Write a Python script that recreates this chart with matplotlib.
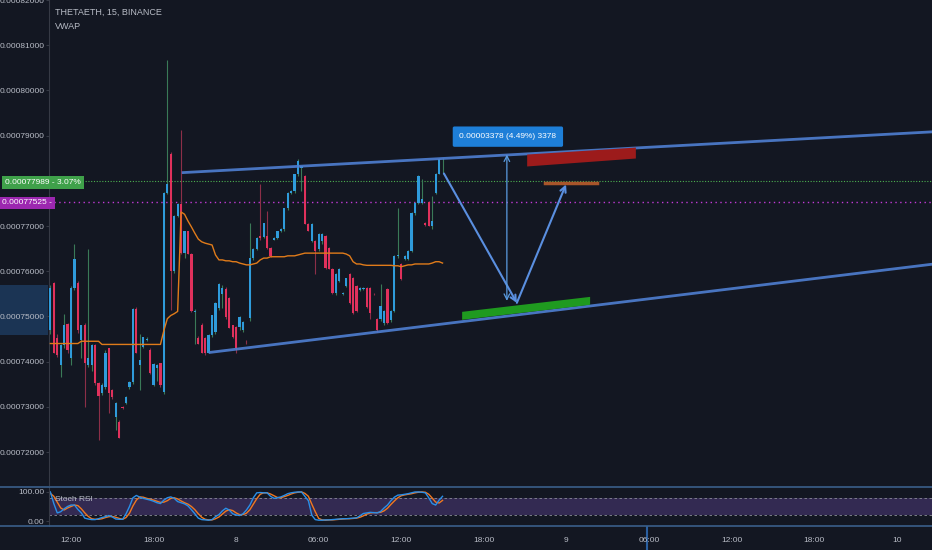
import numpy as np
import matplotlib
matplotlib.use("Agg")
import matplotlib.pyplot as plt
from matplotlib import font_manager
from matplotlib.patches import Polygon, Rectangle

# pick a narrow UI font if we have one
names = {f.name for f in font_manager.fontManager.ttflist}
ui_font = 'Liberation Sans Narrow' if 'Liberation Sans Narrow' in names else 'Liberation Sans'
plt.rcParams['font.family'] = [ui_font, 'DejaVu Sans']

# ---- data (prices in 1e-8 ETH) ----
opens = [74690, 75740, 74530, 73920, 74360, 74840, 74090, 75630, 75740, 74470,
         74800, 73920, 73920, 74360, 73520, 73300, 73440, 74290, 73370, 72780,
         72660, 73000, 73080, 73430, 73540, 75170, 73920, 74320, 74480, 74250,
         73480, 73850, 73960, 73320, 77720, 78600, 76000, 77220, 77480, 76400,
         76890, 76380, 75090, 74530, 74800, 74530, 74200, 74580, 74650, 75190,
         75500, 75610, 75410, 74800, 74760, 74760, 74690, 74440, 74970, 76290,
         76500, 76780, 76760, 76780, 76520, 76700, 76740, 76890, 76930, 77390,
         77720, 77770, 78160, 78290, 78100, 77050, 76670, 76670, 76490, 76670,
         76780, 76510, 76050, 75520, 75790, 75500, 75680, 75940, 75850, 75680,
         75580, 75600, 75630, 75630, 75500, 74950, 74950, 74860, 75610, 74910,
         75130, 76340, 76160, 76270, 76270, 76450, 77280, 77500, 77510, 77060,
         77540, 77000, 77720, 78160, 78450]
highs = [75700, 75760, 74600, 74400, 75060, 74860, 75680, 76600, 75780, 74800,
         74850, 76490, 74400, 74400, 73540, 73520, 74250, 74300, 73400, 73100,
         72700, 73020, 73230, 73560, 75190, 75200, 74620, 74550, 74540, 74300,
         73960, 73950, 73980, 77750, 80670, 78640, 77240, 77500, 79130, 76900,
         76900, 76400, 75160, 74560, 74850, 74550, 74600, 75040, 75320, 75740,
         75700, 75650, 75420, 74820, 74780, 75000, 74900, 74470, 77060, 76520,
         76750, 77920, 77070, 77330, 76540, 76760, 76900, 76950, 77400, 77760,
         77790, 78160, 78480, 78330, 78120, 77060, 77060, 76680, 76850, 76850,
         76800, 76530, 76060, 75960, 76060, 75530, 75860, 75960, 75870, 75700,
         75640, 75640, 75650, 75650, 75520, 74970, 75720, 75150, 75630, 75150,
         76360, 77400, 76180, 76360, 76470, 77300, 77520, 78120, 78040, 77080,
         77560, 77660, 78170, 78500, 78500]
lows = [74620, 74180, 74100, 73650, 74300, 74200, 73920, 75580, 74640, 74090,
        72990, 73880, 73800, 73480, 72270, 73260, 73400, 72860, 73180, 72490,
        72300, 72960, 73060, 73400, 73500, 74180, 73370, 74300, 74460, 73720,
        73450, 73580, 73430, 73280, 77700, 75140, 75950, 77200, 76380, 76300,
        76370, 75100, 74400, 74380, 74180, 74150, 74180, 74550, 74600, 75150,
        75180, 74950, 74740, 74530, 74200, 74700, 74650, 74400, 74900, 76250,
        76480, 76700, 76740, 76500, 76320, 76680, 76720, 76870, 76900, 77350,
        77700, 77740, 78100, 77770, 77040, 76880, 76640, 75940, 76450, 76600,
        76050, 76040, 75500, 75480, 75760, 75470, 75650, 75280, 75060, 75100,
        75560, 75580, 75180, 74950, 75480, 74660, 74900, 74820, 74840, 74880,
        75100, 76300, 75800, 76250, 76250, 76420, 77250, 77480, 77490, 77010,
        76990, 76930, 77700, 78140, 78140]
closes = [75630, 74200, 74140, 74360, 74800, 74250, 75630, 76270, 74690, 74800,
          73960, 74090, 74360, 73520, 73240, 73480, 74200, 73300, 73210, 73080,
          72310, 72980, 73210, 73540, 75170, 74200, 74040, 74540, 74500, 73740,
          73950, 73920, 73480, 77720, 77940, 76000, 77220, 77480, 76400, 76890,
          76380, 75130, 75130, 74400, 74200, 74200, 74580, 75020, 75300, 75720,
          75630, 74980, 74750, 74540, 74310, 74980, 74870, 74430, 76290, 76500,
          76740, 76740, 77060, 76520, 76340, 76740, 76890, 76930, 77390, 77720,
          77770, 78140, 78430, 78320, 77050, 76890, 77040, 76450, 76820, 76830,
          76070, 76050, 75520, 75940, 76050, 75510, 75850, 75300, 75080, 75130,
          75620, 75620, 75200, 75070, 75490, 74690, 75240, 75130, 74860, 75130,
          76340, 76360, 75830, 76340, 76450, 77280, 77500, 78100, 77600, 77030,
          77000, 77100, 78160, 78490, 78470]
vwap = [74400, 74400, 74400, 74400, 74400, 74400, 74400, 74400, 74400, 74450,
        74450, 74450, 74450, 74450, 74450, 74380, 74380, 74380, 74380, 74380,
        74380, 74380, 74380, 74380, 74380, 74380, 74380, 74380, 74380, 74380,
        74380, 74380, 74380, 74690, 74950, 75020, 75060, 75110, 77310, 77260,
        77110, 76980, 76840, 76710, 76650, 76620, 76600, 76580, 76360, 76250,
        76250, 76230, 76230, 76210, 76210, 76180, 76160, 76140, 76140, 76160,
        76180, 76250, 76290, 76290, 76320, 76320, 76320, 76320, 76320, 76340,
        76340, 76340, 76360, 76380, 76400, 76400, 76400, 76400, 76400, 76400,
        76400, 76400, 76400, 76400, 76400, 76400, 76380, 76340, 76210, 76160,
        76160, 76140, 76130, 76130, 76130, 76130, 76130, 76130, 76130, 76130,
        76120, 76120, 76100, 76120, 76140, 76140, 76160, 76160, 76160, 76160,
        76160, 76180, 76210, 76210, 76180]
stoch_k = [100, 60, 28, 32, 42, 50, 55, 55, 40, 28, 10, 7, 5, 5, 8, 12, 15, 19, 14, 7,
           6, 6, 25, 50, 80, 88, 82, 78, 75, 72, 68, 63, 60, 72, 80, 83, 78, 67, 63, 59,
           52, 39, 25, 10, 5, 4, 3, 5, 15, 22, 35, 44, 38, 25, 21, 19, 25, 38, 55, 80,
           97, 98, 97, 97, 85, 78, 80, 83, 88, 94, 97, 99, 100, 100, 85, 70, 20, 5, 3, 3,
           4, 4, 5, 6, 7, 8, 8, 9, 10, 11, 18, 26, 28, 30, 29, 28, 33, 45, 55, 70,
           82, 89, 90, 92, 94, 97, 100, 100, 99, 97, 80, 60, 55, 72, 85]
stoch_d = [95, 85, 65, 45, 38, 45, 50, 55, 53, 42, 28, 16, 8, 6, 6, 8, 12, 15, 16, 13,
           9, 6, 12, 27, 52, 72, 83, 82, 78, 75, 72, 68, 64, 65, 70, 78, 80, 76, 69, 63,
           58, 50, 39, 25, 13, 6, 4, 4, 8, 14, 24, 34, 39, 36, 28, 22, 22, 27, 39, 58,
           77, 92, 97, 97, 93, 87, 81, 80, 84, 88, 93, 97, 99, 100, 95, 85, 58, 32, 9, 4,
           3, 4, 4, 5, 6, 7, 8, 8, 9, 10, 13, 18, 24, 28, 29, 29, 30, 35, 44, 57,
           69, 80, 87, 90, 92, 94, 97, 99, 100, 99, 92, 79, 65, 62, 71]

first_bar = 42            # 15-min bars counted from day 7, 00:00
time_ticks = [48, 72, 96, 120, 144, 168, 192, 216, 240, 264, 288]
time_labels = ['12:00', '18:00', '8', '06:00', '12:00', '18:00', '9', '06:00', '12:00', '18:00', '10']
price_ticks = [0.00072, 0.00073, 0.00074, 0.00075, 0.00076, 0.00077, 0.00078, 0.00079, 0.00080, 0.00081, 0.00082]
last_price = 0.00077989
vwap_price = 0.00077525

o = np.array(opens) * 1e-8
h = np.array(highs) * 1e-8
l = np.array(lows) * 1e-8
c = np.array(closes) * 1e-8
vw = np.array(vwap) * 1e-8
x = first_bar + np.arange(len(o))

bg = '#131722'
txt = '#b8bcc6'
up_col, dn_col = '#2f9bdb', '#e0315c'
up_wick, dn_wick = '#3a7a58', '#8c2f48'
line_blue = '#4f7fd2'
sep_col = '#3a5f8a'
fs = 6

fig = plt.figure(figsize=(9.32, 5.5), dpi=100, facecolor=bg)
ax = fig.add_axes([49/932, 65/550, 883/932, 485/550], facecolor=bg)
ax2 = fig.add_axes([49/932, 24/550, 883/932, 39/550], facecolor=bg)

xlim = (41.6, 41.6 + 883/3.44)

# ---- candles ----
up = c >= o
ax.vlines(x[up], l[up], h[up], color=up_wick, lw=0.8, zorder=2)
ax.vlines(x[~up], l[~up], h[~up], color=dn_wick, lw=0.8, zorder=2)
body = np.maximum(np.abs(c - o), 2.5e-8)
ax.bar(x[up], body[up], bottom=o[up], width=0.65, color=up_col, lw=0, zorder=3)
ax.bar(x[~up], body[~up], bottom=c[~up], width=0.65, color=dn_col, lw=0, zorder=3)
ax.plot(x, vw, color='#e07b1a', lw=1, zorder=4)

# price lines
ax.axhline(last_price, color='#4caf50', lw=0.8, ls=(0, (1, 1.5)), zorder=1)
ax.axhline(vwap_price, color='#c13ad6', lw=1.0, ls=(0, (1, 2.5)), zorder=1)

# ---- drawings ----
ax.plot([80.2, 300], [0.0007818, 0.0007909], color=line_blue, lw=2, alpha=0.9, zorder=5, solid_capstyle='butt')
ax.plot([88.0, 300], [0.000742, 0.0007617], color=line_blue, lw=2, alpha=0.9, zorder=5, solid_capstyle='butt')
ax.add_patch(Polygon([[161.7, 0.00075101], [198.9, 0.00075432], [198.9, 0.00075256], [161.7, 0.00074925]],
                     closed=True, fc='#1f9a1f', ec='none', zorder=5))
ax.add_patch(Polygon([[180.6, 0.00078581], [212.2, 0.00078735], [212.2, 0.00078493], [180.6, 0.00078317]],
                     closed=True, fc='#9c1b1b', ec='none', zorder=5))
ax.plot([185.8, 200.9], [0.00077942, 0.00077942], color='#a8552a', lw=2.5, zorder=5)
arrow = dict(arrowstyle='->', color='#5a8fe0', lw=1.5, shrinkA=0, shrinkB=0)
ax.annotate('', xy=(177.6, 0.000753), xytext=(156.4, 0.00078162), arrowprops=arrow, zorder=6)
ax.annotate('', xy=(191.9, 0.0007792), xytext=(177.6, 0.000753), arrowprops=arrow, zorder=6)
ax.annotate('', xy=(174.7, 0.00078581), xytext=(174.7, 0.00075344),
            arrowprops=dict(arrowstyle='<->', color='#5a9be0', lw=0.9, shrinkA=0, shrinkB=0), zorder=6)
ax.text(175.0, 0.00078977, '0.00003378 (4.49%) 3378', color='white', fontsize=fs,
        ha='center', va='center', zorder=7,
        bbox=dict(boxstyle='round,pad=0.8,rounding_size=0.2', fc='#1e7fd8', ec='none'))

ax.set_xlim(*xlim)
ax.set_ylim(0.0007127, 0.0008195)
ax.set_yticks(price_ticks)
# 0.00078000 sits under the last-price badge
ax.set_yticklabels(['' if p == 0.00078 else '%.8f' % p for p in price_ticks])
ax.tick_params(axis='y', length=2, color='#363a45', labelcolor=txt, labelsize=fs, pad=1.5)
ax.set_xticks([])
for s in ['top', 'right', 'bottom']:
    ax.spines[s].set_visible(False)
ax.spines['left'].set_color('#363a45')

ax.text(0.007, 0.975, 'THETAETH, 15, BINANCE', transform=ax.transAxes, color=txt, fontsize=6.5, va='center')
ax.text(0.007, 0.946, 'VWAP', transform=ax.transAxes, color=txt, fontsize=6.5, va='center')

# ---- stoch rsi pane ----
ax2.axhspan(20, 80, color='#7e57c2', alpha=0.3, lw=0)
ax2.axhline(80, color='#8a8d96', lw=0.6, ls=(0, (3, 3)))
ax2.axhline(20, color='#8a8d96', lw=0.6, ls=(0, (3, 3)))
ax2.plot(x, stoch_d, color='#f07820', lw=1)
ax2.plot(x, stoch_k, color='#2a8fe8', lw=1)
ax2.set_xlim(*xlim)
ax2.set_ylim(-17, 117)
ax2.set_yticks([0, 100])
ax2.set_yticklabels(['0.00', '100.00'])
ax2.tick_params(axis='y', length=2, color='#363a45', labelcolor=txt, labelsize=fs, pad=1.5)
ax2.set_xticks(time_ticks)
ax2.set_xticklabels(time_labels)
ax2.tick_params(axis='x', length=0, labelcolor=txt, labelsize=fs, pad=8)
for s in ['top', 'bottom', 'right']:
    ax2.spines[s].set_visible(False)
ax2.spines['left'].set_color('#363a45')
ax2.text(0.007, 0.68, 'Stoch RSI', transform=ax2.transAxes, color=txt, fontsize=fs, va='center')

# pane separators run across the whole width
for yy in (1 - 486.5/550, 24/550):
    fig.add_artist(plt.Line2D([0, 1], [yy, yy], color=sep_col, lw=1.2))

# ---- axis badges ----
fig.patches.append(Rectangle((0, (550-335)/550), 48/932, 50/550, transform=fig.transFigure,
                             fc='#1b3454', ec='none', zorder=-1))
fig.text(5/932, 1-182.5/550, '%.8f - 3.07%%' % last_price, color='white', fontsize=fs, va='center',
         bbox=dict(boxstyle='square,pad=0.35', fc='#3fa14a', ec='none'))
fig.text(2/932, 1-203/550, '%.8f -' % vwap_price, color='white', fontsize=fs, va='center',
         bbox=dict(boxstyle='square,pad=0.35', fc='#9c27b0', ec='none'))
fig.add_artist(plt.Line2D([647/932, 647/932], [0, 23/550], color='#2a5fa0', lw=1.5, zorder=-1))

fig.savefig('out.png', dpi=100, facecolor=bg)
